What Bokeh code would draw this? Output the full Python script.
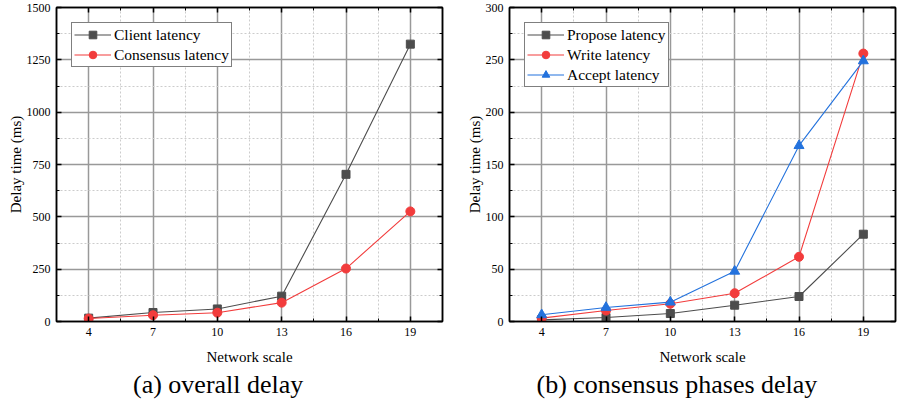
from bokeh.plotting import figure
from bokeh.layouts import row
from bokeh.models import (FixedTicker, LinearAxis, Range1d, Title,
                          CustomLabelingPolicy)
from bokeh.embed import file_html
from bokeh.resources import INLINE

# ---- data ----
scales = [4, 7, 10, 13, 16, 19]
x_minor = [5.5, 8.5, 11.5, 14.5, 17.5]

client_latency = [16, 43, 60, 121, 703, 1325]
consensus_latency = [14, 30, 42, 90, 253, 526]

propose_latency = [1.6, 3.8, 7.6, 15.6, 23.9, 83.4]
write_latency = [3.2, 10.5, 17.0, 27.0, 61.8, 256]
accept_latency = [6.4, 13.4, 18.5, 48.0, 168, 249]

left_yticks = [0, 250, 500, 750, 1000, 1250, 1500]
left_yminor = [125, 375, 625, 875, 1125, 1375]
right_yticks = [0, 50, 100, 150, 200, 250, 300]
right_yminor = [25, 75, 125, 175, 225, 275]

FONT = "Liberation Serif"
GREY = "#4d4d4d"
RED = "#f23c3c"
BLUE = "#2372dd"

NO_LABELS = """
for (let i = 0; i < indices.size; i++) { indices.unset(i) }
return indices
"""


def make_panel(width, bl, br, bt, bb, ymax, yticks, yminor, series,
               caption, cap_offset):
    p = figure(width=width, height=408, x_range=Range1d(2.5, 20.5),
               y_range=Range1d(0, ymax), output_backend="svg", title=None,
               toolbar_location=None, min_border_left=bl, min_border_right=br,
               min_border_top=bt, min_border_bottom=bb)
    p.outline_line_color = "black"
    p.outline_line_width = 1.5
    xt = FixedTicker(ticks=scales, minor_ticks=x_minor)
    yt = FixedTicker(ticks=yticks, minor_ticks=yminor)
    p.xaxis.ticker = xt
    p.yaxis.ticker = yt
    p.xgrid.ticker = xt
    p.ygrid.ticker = yt
    for g in (p.xgrid, p.ygrid):
        g.grid_line_color = "#999999"
        g.grid_line_width = 1.5
        g.minor_grid_line_color = "#cccccc"
        g.minor_grid_line_dash = "2 2"
        g.minor_grid_line_width = 1

    for ax in (p.xaxis, p.yaxis):
        ax.axis_line_width = 1.5
        ax.axis_line_color = "black"
        ax.major_tick_in = 5
        ax.major_tick_out = 0
        ax.minor_tick_in = 3
        ax.minor_tick_out = 0
        ax.major_tick_line_width = 1.5
        ax.major_label_text_font = FONT
        ax.major_label_text_font_size = "12px"
        ax.major_label_text_color = "black"
        ax.axis_label_text_font = FONT
        ax.axis_label_text_font_size = "15px"
        ax.axis_label_text_font_style = "normal"
        ax.axis_label_text_color = "black"
    p.xaxis.axis_label = "Network scale"
    p.yaxis.axis_label = "Delay time (ms)"
    p.xaxis.major_label_standoff = 6
    p.xaxis.axis_label_standoff = 10
    p.yaxis.major_label_standoff = 6
    p.yaxis.axis_label_standoff = 0

    top = LinearAxis(ticker=xt)
    right = LinearAxis(ticker=yt)
    for ax in (top, right):
        ax.axis_line_width = 1.5
        ax.major_tick_in = 5
        ax.major_tick_out = 0
        ax.minor_tick_in = 3
        ax.minor_tick_out = 0
        ax.major_tick_line_width = 1.5
        ax.major_label_text_font = FONT
        ax.major_label_text_font_size = "1px"
        ax.major_label_standoff = 0
        ax.axis_label_standoff = 0
        ax.major_label_policy = CustomLabelingPolicy(code=NO_LABELS)
    p.add_layout(top, "above")
    p.add_layout(right, "right")

    for label, ys, color, marker, size in series:
        p.line(scales, ys, line_color=color, line_width=1.1, legend_label=label)
        p.scatter(scales, ys, marker=marker, size=size, fill_color=color,
                  line_color=color, legend_label=label)

    lg = p.legend[0]
    lg.location = "top_left"
    lg.margin = 15
    lg.padding = 2
    lg.spacing = 1
    lg.glyph_width = 37
    lg.glyph_height = 19
    lg.label_height = 19
    lg.label_standoff = 3
    lg.label_text_font = FONT
    lg.label_text_font_size = "15.5px"
    lg.label_text_color = "black"
    lg.border_line_color = "black"
    lg.border_line_width = 1
    lg.background_fill_alpha = 1

    p.add_layout(Title(text=caption, align="left", offset=cap_offset,
                       standoff=0, text_font=FONT, text_font_size="26px",
                       text_font_style="normal", text_color="black"),
                 "below")
    return p


p1 = make_panel(455, 56, 13, 7, 87, 1500, left_yticks, left_yminor,
                [("Client latency", client_latency, GREY, "square", 8),
                 ("Consensus latency", consensus_latency, RED, "circle", 9)],
                "(a) overall delay", 76.5)
p2 = make_panel(445, 54, 1, 7, 87, 300, right_yticks, right_yminor,
                [("Propose latency", propose_latency, GREY, "square", 8),
                 ("Write latency", write_latency, RED, "circle", 9),
                 ("Accept latency", accept_latency, BLUE, "triangle", 10)],
                "(b) consensus phases delay", 27)

layout = row(p1, p2, spacing=0)
open("out.html", "w").write(file_html(layout, INLINE))
